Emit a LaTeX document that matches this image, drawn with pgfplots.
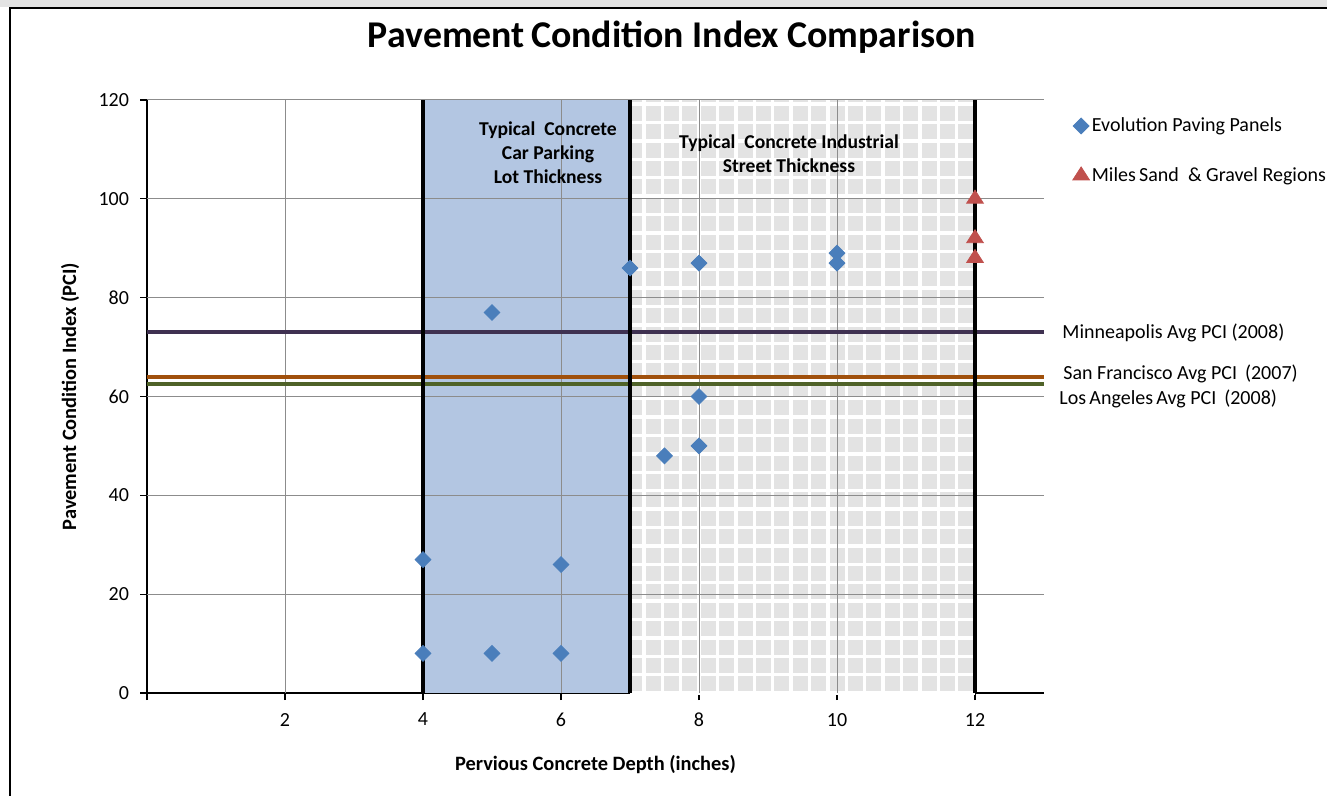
\documentclass[border=0pt]{standalone}
\usepackage{fontspec}
\setmainfont{Carlito}
\usepackage{pgfplots}
\pgfplotsset{compat=1.18}

\definecolor{ptblue}{HTML}{4A7EBB}
\definecolor{ptred}{HTML}{C0504D}
\definecolor{regblue}{HTML}{B3C6E2}
\definecolor{reggray}{HTML}{E3E3E3}
\definecolor{minn}{HTML}{3F3151}
\definecolor{sfc}{HTML}{A0500C}
\definecolor{lac}{HTML}{4F6228}
\definecolor{gridc}{HTML}{8C8C8C}

\pgfplotstableread{
x y
4 8
4 27
5 8
5 77
6 8
6 26
7 86
7.5 48
8 50
8 60
8 87
10 87
10 89
}\evolution

\pgfplotstableread{
x y
12 100
12 92
12 88
}\miles

\begin{document}
\begin{tikzpicture}
\path[use as bounding box] (0pt,0pt) rectangle (663.5pt,-398pt);
\fill[gray!22] (0pt,0pt) rectangle (663.5pt,-3.6pt);
\draw[line width=0.9pt] (5pt,-400pt) -- (5pt,-4.2pt) -- (670pt,-4.2pt);

\begin{axis}[
  at={(73.5pt,-346.5pt)}, anchor=south west,
  width=448.5pt, height=296.5pt, scale only axis,
  xmin=0, xmax=13, ymin=0, ymax=120,
  axis x line*=bottom, axis y line*=left,
  axis line style={-, black, line width=0.8pt},
  xtick={0,2,...,12}, xticklabels={,2,4,6,8,10,12},
  ytick={0,20,...,120},
  tick align=outside, major tick length=3.5pt,
  tick style={black, line width=0.6pt},
  /pgf/number format/assume math mode=true,
  ticklabel style={font=\fontsize{10}{12}\selectfont},
  xticklabel style={yshift=-3pt},
  yticklabel style={xshift=-2pt},
  xlabel={Pervious Concrete Depth (inches)},
  ylabel={Pavement Condition Index (PCI)},
  label style={font=\fontsize{10.2}{12}\selectfont\bfseries},
  xlabel style={at={(axis description cs:0.5,-0.1214)}, anchor=center},
  ylabel style={at={(axis description cs:-0.0858,0.5)}, anchor=center},
  clip=false,
  legend style={at={(axis description cs:1.025,0.982)}, anchor=north west,
    draw=none, fill=none, row sep=14pt,
    font=\fontsize{10}{12}\selectfont,
    nodes={inner sep=1.2pt}},
  legend cell align=left,
  legend image code/.code={\draw[mark repeat=2,mark phase=2] plot coordinates {(0cm,0cm)(0.15cm,0cm)(0.3cm,0cm)};},
]
\fill[regblue] (axis cs:4,0) rectangle (axis cs:7,120);
\fill[reggray] (axis cs:7,0) rectangle (axis cs:12,120);
\draw[white, line width=1.7pt, step=9.2pt] (axis cs:7,0) grid (axis cs:12,120);

% grid lines
\addplot[gridc, line width=0.5pt, forget plot] coordinates {(2,0) (2,120)};
\addplot[gridc, line width=0.5pt, forget plot] coordinates {(4,0) (4,120)};
\addplot[gridc, line width=0.5pt, forget plot] coordinates {(6,0) (6,120)};
\addplot[gridc, line width=0.5pt, forget plot] coordinates {(8,0) (8,120)};
\addplot[gridc, line width=0.5pt, forget plot] coordinates {(10,0) (10,120)};
\addplot[gridc, line width=0.5pt, forget plot] coordinates {(0,20) (13,20)};
\addplot[gridc, line width=0.5pt, forget plot] coordinates {(0,40) (13,40)};
\addplot[gridc, line width=0.5pt, forget plot] coordinates {(0,60) (13,60)};
\addplot[gridc, line width=0.5pt, forget plot] coordinates {(0,80) (13,80)};
\addplot[gridc, line width=0.5pt, forget plot] coordinates {(0,100) (13,100)};
\addplot[gridc, line width=0.5pt, forget plot] coordinates {(0,120) (13,120)};

\addplot[minn, line width=2.1pt, forget plot] coordinates {(0,73) (13,73)};
\addplot[sfc, line width=2.1pt, forget plot] coordinates {(0,64) (13,64)};
\addplot[lac, line width=2.1pt, forget plot] coordinates {(0,62.5) (13,62.5)};
\addplot[black, line width=2pt, forget plot] coordinates {(4,0) (4,120)};
\addplot[black, line width=2pt, forget plot] coordinates {(7,0) (7,120)};
\addplot[black, line width=2pt, forget plot] coordinates {(12,0) (12,120)};

\addplot[only marks, mark=square*, mark size=2.8pt,
  mark options={fill=ptblue, draw=ptblue, rotate=45}] table[x=x,y=y] {\evolution};
\addlegendentry{Evolution Paving Panels}
\addplot[only marks, mark=triangle*, mark size=4.8pt,
  mark options={fill=ptred, draw=ptred, yscale=0.9}] table[x=x,y=y] {\miles};
\addlegendentry{Miles\,Sand \ \& Gravel Regions}
\end{axis}

\node[font=\fontsize{18.9}{22}\selectfont\bfseries] at (336pt,-18.5pt) {Pavement\,Condition Index Comparison};

\node[font=\fontsize{9.8}{12}\selectfont\bfseries, align=center] at (274pt,-76.5pt)
  {Typical\ \ Concrete\\Car Parking\\Lot Thickness};
\node[font=\fontsize{9.8}{12}\selectfont\bfseries, align=center] at (394.5pt,-77pt)
  {Typical\ \ Concrete Industrial\\Street Thickness};

\node[font=\fontsize{10}{12}\selectfont, anchor=west, inner sep=0pt] at (531pt,-166.5pt) {Minneapolis Avg PCI (2008)};
\node[font=\fontsize{10}{12}\selectfont, anchor=west, inner sep=0pt] at (531.5pt,-187pt) {San Francisco Avg PCI\ \,(2007)};
\node[font=\fontsize{10}{12}\selectfont, anchor=west, inner sep=0pt] at (529.5pt,-199.5pt) {Los\,Angeles\,Avg PCI\ \,(2008)};
\end{tikzpicture}
\end{document}
